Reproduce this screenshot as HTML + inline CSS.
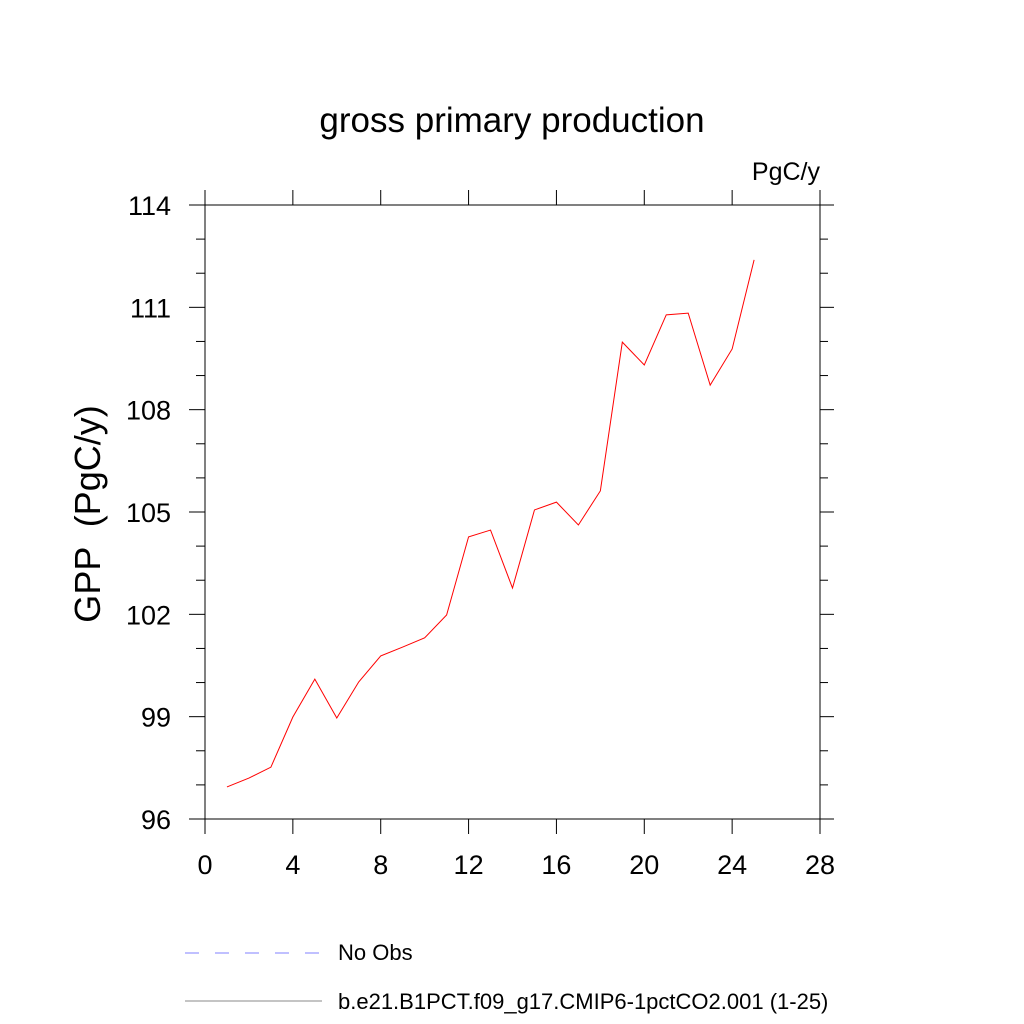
<!DOCTYPE html>
<html><head><meta charset="utf-8"><style>
html,body{margin:0;padding:0;background:#fff;width:1024px;height:1024px;overflow:hidden}
text{font-family:"Liberation Sans",sans-serif;fill:#000}
</style></head><body>
<svg id="chart" width="1024" height="1024" viewBox="0 0 1024 1024">
<text x="512" y="132" font-size="35" text-anchor="middle">gross primary production</text>
<text x="820" y="180" font-size="25" text-anchor="end">PgC/y</text>
<text transform="translate(100,514) rotate(-90)" font-size="36" text-anchor="middle" xml:space="preserve" style="white-space:pre">GPP  (PgC/y)</text>
<rect x="205" y="205" width="615" height="614" fill="none" stroke="#000" stroke-width="1"/>
<g id="axes"></g>
<polyline id="series" fill="none" stroke="#ff0000" stroke-width="1"/>
<g>
<line x1="185" y1="953" x2="322" y2="953" stroke="#8080ff" stroke-width="1" stroke-dasharray="14,16"/>
<text x="338" y="960" font-size="22">No Obs</text>
<line x1="185" y1="1001" x2="322" y2="1001" stroke="#888" stroke-width="1"/>
<text x="338" y="1009" font-size="22">b.e21.B1PCT.f09_g17.CMIP6-1pctCO2.001 (1-25)</text>
</g>
</svg>
<script>
const years = [1,2,3,4,5,6,7,8,9,10,11,12,13,14,15,16,17,18,19,20,21,22,23,24,25];
const gpp = [96.94,97.2,97.52,98.99,100.1,98.96,100.02,100.78,101.04,101.31,101.98,104.27,104.47,102.77,105.06,105.29,104.62,105.62,109.98,109.31,110.78,110.83,108.72,109.78,112.39];
const xTicks = [0,4,8,12,16,20,24,28];
const yTicks = [96,99,102,105,108,111,114];
const X0=205,X1=820,Y0=819,Y1=205,xMin=0,xMax=28,yMin=96,yMax=114;
const sx=v=>X0+(v-xMin)/(xMax-xMin)*(X1-X0);
const sy=v=>Y0-(v-yMin)/(yMax-yMin)*(Y0-Y1);
const NS="http://www.w3.org/2000/svg";
const ax=document.getElementById('axes');
function ln(x1,y1,x2,y2,name){const l=document.createElementNS(NS,'line');
l.setAttribute('x1',x1);l.setAttribute('y1',y1);l.setAttribute('x2',x2);l.setAttribute('y2',y2);
l.setAttribute('stroke','#000');l.setAttribute('stroke-width','1');


ax.appendChild(l);}
function tx(x,y,s,anchor,name){const t=document.createElementNS(NS,'text');
t.setAttribute('x',x);t.setAttribute('y',y);t.setAttribute('font-size','27');t.setAttribute('text-anchor',anchor);t.textContent=s;


ax.appendChild(t);}
xTicks.forEach(v=>{const x=sx(v);ln(x,Y0,x,Y0+15,'x-tick');ln(x,Y1,x,Y1-15,'x-tick-top');tx(x,Y0+55,v,'middle','x-tick-label');});
yTicks.forEach(v=>{const y=sy(v);ln(X0,y,X0-16,y,'y-tick');ln(X1,y,X1+14,y,'y-tick-right');tx(X0-34,y+10,v,'end','y-tick-label');});
for(let v=yMin;v<=yMax;v++){if(v%3){const y=sy(v);ln(X0,y,X0-9,y,'y-minor-tick');ln(X1,y,X1+8,y,'y-minor-tick-right');}}
document.getElementById('series').setAttribute('points',years.map((t,i)=>sx(t)+','+sy(gpp[i])).join(' '));
</script>
</body></html>
